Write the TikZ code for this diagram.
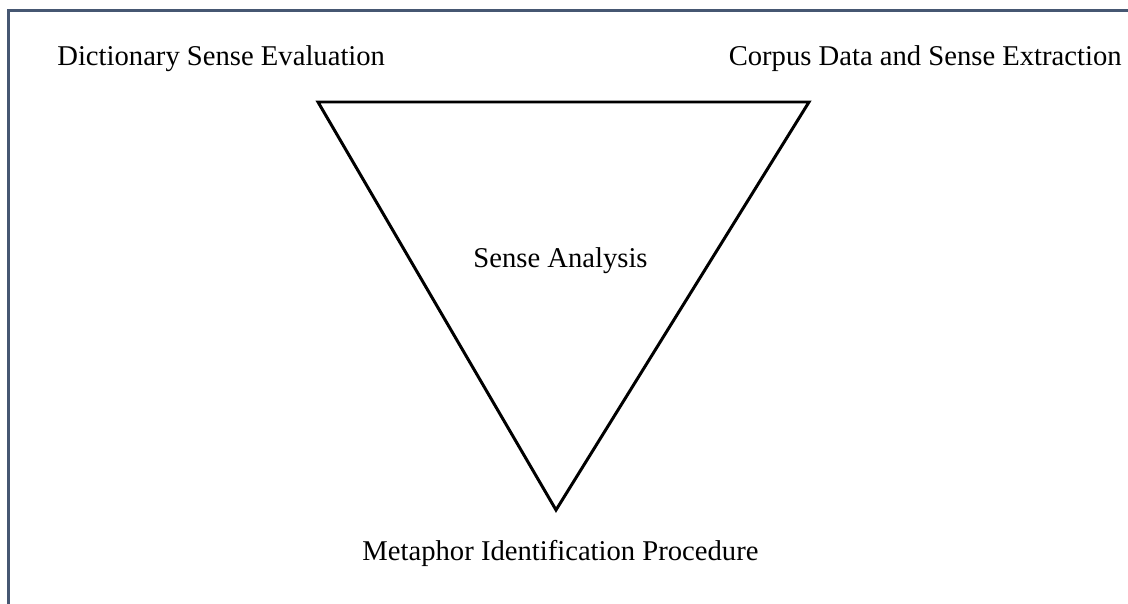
\documentclass[tikz,border=0pt]{standalone}
\usepackage{fontspec}
\setmainfont{Liberation Serif}
\usepackage{tikz}
\usetikzlibrary{calc}

\definecolor{framegray}{HTML}{465772}

\begin{document}
\begin{tikzpicture}[x=0.02cm,y=-0.02cm,
    lbl/.style={inner sep=0pt,font=\fontsize{16.3}{19}\selectfont}]
\useasboundingbox (0,0) rectangle (1128,604);
\clip (0,0) rectangle (1128,604);
\fill[white] (0,0) rectangle (1128,604);
% frame running off the page
\draw[framegray,line width=1.4pt] (8.5,10.5) rectangle (1160,640);
% the triangle
\coordinate (tl) at (318,102);
\coordinate (tr) at (809,102);
\coordinate (bt) at (556,510);
\draw[line width=1.7pt,line join=miter] (tl) -- (tr) -- (bt) -- cycle;
% labels
\node[lbl,anchor=base west] (dict) at (57,66) {Dictionary Sense Evaluation};
\node[lbl,anchor=base east] (corp) at (1122,66) {Corpus Data and Sense Extraction};
\node[lbl,anchor=base] (sense) at (560.5,268) {Sense Analysis};
\node[lbl,anchor=base] (mip) at (560.5,560) {Metaphor Identification Procedure};
\end{tikzpicture}
\end{document}
